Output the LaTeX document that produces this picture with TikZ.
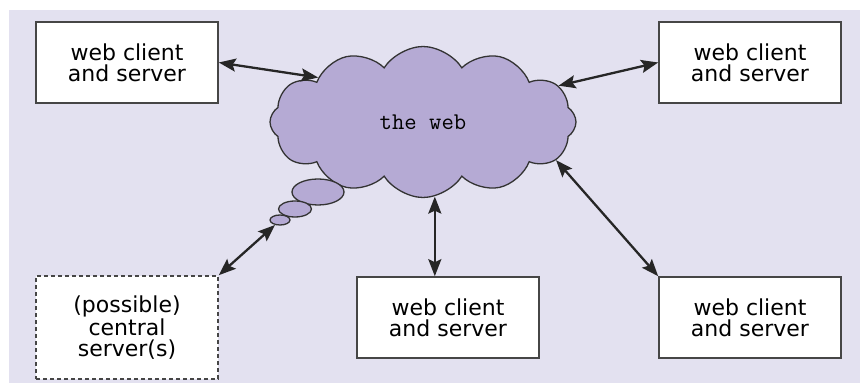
\documentclass[tikz,border=0pt]{standalone}
\usepackage{fontspec}
\setmainfont{DejaVu Sans}
\usetikzlibrary{shapes.symbols,shapes.geometric,arrows.meta}
\definecolor{bgviolet}{RGB}{227,225,240}
\definecolor{cloudviolet}{RGB}{181,170,212}
\definecolor{boxline}{RGB}{70,70,70}
\tikzset{
  hostbox/.style={draw=boxline, line width=1.6pt, fill=white, minimum width=182pt,
    minimum height=81pt, align=center, font=\fontsize{22}{21}\selectfont},
  maybebox/.style={hostbox, minimum height=103pt, dash pattern=on 4pt off 3pt},
  puff/.style={draw=black!80, line width=1.3pt, fill=cloudviolet, inner sep=0pt},
  link/.style={line width=2.3pt, black!85,
    {Stealth[length=17pt,width=13pt,inset=3pt]}-{Stealth[length=17pt,width=13pt,inset=3pt]}}
}
\begin{document}
\begin{tikzpicture}[x=10pt,y=10pt]
	\useasboundingbox (0,0) rectangle (86,38.3);
	\fill[bgviolet] (0.9,0) rectangle (86,37.3);
	% Wolke mit Blasen
	\node[puff, cloud, cloud puffs=12, cloud puff arc=115, aspect=2,
	minimum width=306pt, minimum height=151pt,
	font=\ttfamily\fontsize{24}{24}\selectfont] (web) at (42.3, 26.1) {the web};
	\node[puff, ellipse, minimum width=52pt, minimum height=26pt] (b1) at (31.8, 19.1) {};
	\node[puff, ellipse, minimum width=33pt, minimum height=16pt] (b2) at (29.5, 17.4) {};
	\node[puff, ellipse, minimum width=20pt, minimum height=10pt] (b3) at (28.0, 16.3) {};
	% Rechner
	\node[hostbox] (tl) at (12.7, 32.05) {web client\\and server};
	\node[hostbox] (tr) at (75.0, 32.05) {web client\\and server};
	\node[hostbox] (bm) at (44.8, 6.55) {web client\\and server};
	\node[hostbox] (br) at (75.0, 6.55) {web client\\and server};
	\node[maybebox] (bl) at (12.7, 5.55) {(possible)\\central\\server(s)};
	% Verbindungen
	\draw[link] (tl.east) -- (web.157);
	\draw[link] (web.15) -- (tr.west);
	\draw[link] (web.-81) -- (web.-81 |- bm.north);
	\draw[link] (web.-16) -- (br.north west);
	\draw[link] (bl.north east) -- (b3.225);
\end{tikzpicture}
\end{document}
